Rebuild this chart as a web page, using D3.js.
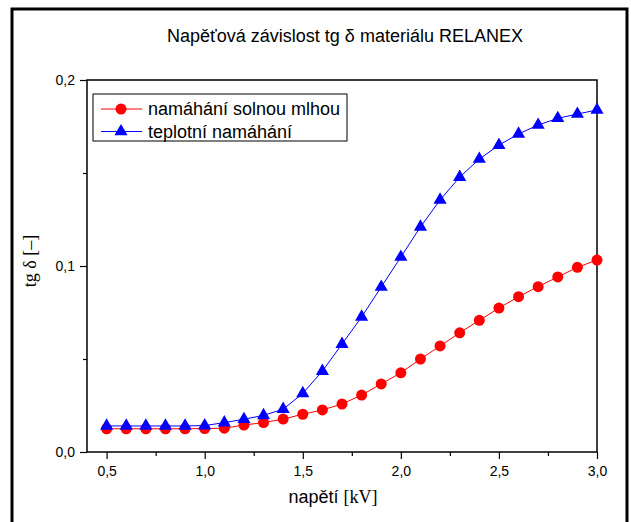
<!DOCTYPE html>
<html>
<head>
<meta charset="utf-8">
<script src="https://cdn.jsdelivr.net/npm/d3@7"></script>
<style>
  body { margin: 0; background: #fff; }
  svg { display: block; }
  .sans { font-family: "Liberation Sans", Arial, sans-serif; }
  .serif { font-family: "Liberation Serif", "Times New Roman", serif; }
</style>
</head>
<body>
<svg id="chart" width="631" height="522"></svg>
<script>
// napětí [kV]
const voltage = [0.5, 0.6, 0.7, 0.8, 0.9, 1.0, 1.1, 1.2, 1.3, 1.4, 1.5, 1.6, 1.7,
                 1.8, 1.9, 2.0, 2.1, 2.2, 2.3, 2.4, 2.5, 2.6, 2.7, 2.8, 2.9, 3.0];
// namáhání solnou mlhou
const saltFog = [0.0125, 0.0125, 0.0125, 0.0125, 0.0125, 0.0126, 0.0128, 0.0145, 0.0158, 0.0177,
                 0.0203, 0.0226, 0.0258, 0.0306, 0.0366, 0.0426, 0.0500, 0.0570, 0.0641, 0.0708,
                 0.0774, 0.0835, 0.0889, 0.0941, 0.0993, 0.1032];
// teplotní namáhání
const thermal = [0.0140, 0.0140, 0.0140, 0.0140, 0.0140, 0.0142, 0.0158, 0.0176, 0.0197, 0.0230,
                 0.0315, 0.0435, 0.0580, 0.0726, 0.0887, 0.1048, 0.1210, 0.1355, 0.1478, 0.1575,
                 0.1650, 0.1710, 0.1758, 0.1794, 0.1817, 0.1839];
const xTicks = [0.5, 1.0, 1.5, 2.0, 2.5, 3.0];
const xMinor = [0.75, 1.25, 1.75, 2.25, 2.75];
const yTicks = [0.0, 0.1, 0.2];
const yMinor = [0.05, 0.15];

const svg = d3.select('#chart');
const fmt = d => d3.format('.1f')(d).replace('.', ',');

// outer frame
svg.append('rect')
   .attr('x', 12).attr('y', 9).attr('width', 615).attr('height', 530)
   .attr('fill', 'none').attr('stroke', '#000').attr('stroke-width', 3);

const x = d3.scaleLinear().domain([0.4, 3.0]).range([87, 597]);
const y = d3.scaleLinear().domain([0, 0.2]).range([452, 80]);

// axes
svg.append('g')
  .attr('transform', `translate(0,${y(0)})`)
  .call(d3.axisBottom(x).tickValues(xTicks).tickFormat(fmt).tickSize(7).tickSizeOuter(0).tickPadding(7));
svg.append('g').attr('transform', `translate(0,${y(0)})`)
  .call(d3.axisBottom(x).tickValues(xMinor).tickFormat('').tickSize(4).tickSizeOuter(0));
svg.append('g')
  .attr('transform', `translate(${x(0.4)},0)`)
  .call(d3.axisLeft(y).tickValues(yTicks).tickFormat(fmt).tickSize(7).tickSizeOuter(0).tickPadding(5));
svg.append('g').attr('transform', `translate(${x(0.4)},0)`)
  .call(d3.axisLeft(y).tickValues(yMinor).tickFormat('').tickSize(4).tickSizeOuter(0));
svg.selectAll('.domain').remove();
svg.selectAll('.tick line').attr('stroke', '#000').attr('stroke-width', 1.2);
svg.selectAll('.tick text').attr('font-size', 14).attr('fill', '#000')
   .attr('font-family', '"Liberation Sans", Arial, sans-serif');

// plot box
svg.append('rect')
   .attr('x', x(0.4)).attr('y', y(0.2))
   .attr('width', x(3.0) - x(0.4)).attr('height', y(0) - y(0.2))
   .attr('fill', 'none').attr('stroke', '#000').attr('stroke-width', 1.5);

// series
const series = [
  { name: 'namáhání solnou mlhou', values: saltFog, color: '#ff0000', symbol: d3.symbolCircle, size: 95 },
  { name: 'teplotní namáhání', values: thermal, color: '#0000ff', symbol: d3.symbolTriangle, size: 75 }
];
const line = d3.line().x((d, i) => x(voltage[i])).y(d => y(d));

series.forEach(s => {
  svg.append('path').datum(s.values)
     .attr('d', line).attr('fill', 'none')
     .attr('stroke', s.color).attr('stroke-width', 1);
  svg.append('g').selectAll('path').data(s.values).join('path')
     .attr('transform', (d, i) => `translate(${x(voltage[i])},${y(d)})`)
     .attr('d', d3.symbol(s.symbol, s.size)())
     .attr('fill', s.color);
});

// legend
const legend = svg.append('g');
legend.append('rect')
  .attr('x', 93).attr('y', 94).attr('width', 254).attr('height', 47)
  .attr('fill', '#fff').attr('stroke', '#000').attr('stroke-width', 1);
series.forEach((s, i) => {
  const ly = 109 + i * 22.5;
  legend.append('line').attr('x1', 101).attr('x2', 142).attr('y1', ly).attr('y2', ly)
    .attr('stroke', s.color).attr('stroke-width', 1);
  legend.append('path').attr('transform', `translate(121,${ly})`)
    .attr('d', d3.symbol(s.symbol, s.size)()).attr('fill', s.color);
  legend.append('text').attr('class', 'sans')
    .attr('x', 148).attr('y', ly).attr('dy', '0.35em')
    .attr('font-size', 18).text(s.name);
});

// title and axis labels
svg.append('text').attr('class', 'sans')
  .attr('x', 345).attr('y', 42).attr('text-anchor', 'middle').attr('font-size', 18)
  .text('Napěťová závislost tg δ materiálu RELANEX');

const xl = svg.append('text').attr('x', 333).attr('y', 503).attr('text-anchor', 'middle');
xl.append('tspan').attr('class', 'sans').attr('font-size', 18).text('napětí ');
xl.append('tspan').attr('class', 'serif').attr('font-size', 18).text('[kV]');

svg.append('text').attr('class', 'serif')
  .attr('transform', 'translate(36,261) rotate(-90)')
  .attr('text-anchor', 'middle').attr('font-size', 18)
  .text('tg δ [–]');
</script>
</body>
</html>
